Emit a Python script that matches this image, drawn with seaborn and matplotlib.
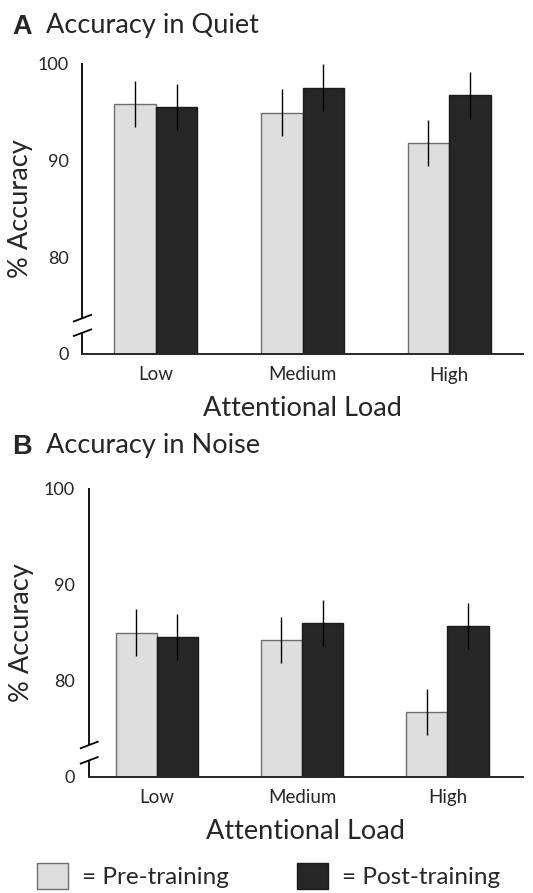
#!/usr/bin/env python3
import matplotlib
matplotlib.use('Agg')
import matplotlib.pyplot as plt
import numpy as np
import pandas as pd
import seaborn as sns


LOADS = ['Low', 'Medium', 'High']
PHASES = ['Pre-training', 'Post-training']

# panel A: accuracy in quiet (% correct, axis broken below 70)
QUIET_PRE = [95.8, 94.9, 91.8]
QUIET_POST = [95.5, 97.5, 96.7]
QUIET_PRE_ERR = [2.4, 2.4, 2.4]
QUIET_POST_ERR = [2.4, 2.4, 2.4]

# panel B: accuracy in noise
NOISE_PRE = [85.0, 84.2, 76.7]
NOISE_POST = [84.5, 86.0, 85.7]
NOISE_PRE_ERR = [2.4, 2.4, 2.4]
NOISE_POST_ERR = [2.4, 2.4, 2.4]

Y_TICKS = [70, 80, 90, 100]
Y_TICKLABELS = ['0', '80', '90', '100']

LIGHT = '#dedede'
DARK = '#262626'
FONT = 'Lato'
BIG = 19.5


def plot_panel(ax, pre, post, pre_err, post_err, xlim, breaks, ylab_x):
    '''
    '''
    df = pd.DataFrame({
        'load': LOADS * 2,
        'phase': [PHASES[0]] * 3 + [PHASES[1]] * 3,
        'acc': pre + post})

    sns.barplot(data=df, x='load', y='acc', hue='phase',
                palette=[LIGHT, DARK], width=0.567, errorbar=None,
                saturation=1, legend=False, ax=ax)

    edges = ['#6e6e6e', '#1a1a1a']
    for cont, errs, ec in zip(ax.containers, [pre_err, post_err], edges):
        for bar, err in zip(cont, errs):
            bar.set_edgecolor(ec)
            bar.set_linewidth(1.0)
            xc = bar.get_x() + bar.get_width() / 2
            ax.errorbar(xc, bar.get_height(), yerr=err, color='black',
                        lw=1.0, capsize=0, clip_on=False, zorder=5)

    ax.set_ylim(70, 100)
    ax.set_xlim(*xlim)
    ax.set_yticks(Y_TICKS)
    ax.set_yticklabels(Y_TICKLABELS, fontsize=13, family=FONT)
    ax.set_xticks(range(3))
    ax.set_xticklabels(LOADS, fontsize=13.5, family=FONT)
    ax.tick_params(length=0, pad=9)
    ax.tick_params(axis='y', pad=10)
    ax.set_xlabel('Attentional Load', fontsize=BIG, family=FONT,
                  labelpad=9)
    ax.set_ylabel('% Accuracy', fontsize=BIG, family=FONT)
    ax.yaxis.set_label_coords(ylab_x, 0.5)

    for s in ['top', 'right', 'left']:
        ax.spines[s].set_visible(False)
    ax.spines['bottom'].set_linewidth(1.4)

    # broken y axis drawn by hand
    top_b, low_b = breaks
    trans = ax.get_yaxis_transform()
    kw = dict(color='black', lw=1.3, transform=trans, clip_on=False,
              solid_capstyle='butt')
    ax.plot([0, 0], [top_b, 100], **kw)
    ax.plot([0, 0], [70, low_b], **kw)
    for yb in breaks:
        ax.plot([-0.021, 0.022], [yb - 0.37, yb + 0.37], **kw)


sns.set_style('white')
plt.rcParams['font.family'] = [FONT, 'DejaVu Sans']

fig = plt.figure(figsize=(5.33, 8.93), dpi=100)
W, H = 533.0, 893.0

axA = fig.add_axes([82.3 / W, (H - 354) / H, (522.7 - 82.3) / W,
                    (354 - 63.3) / H])
plot_panel(axA, QUIET_PRE, QUIET_POST, QUIET_PRE_ERR, QUIET_POST_ERR,
           (-0.5, 2.5), (73.7, 72.2), -0.111)

axB = fig.add_axes([89 / W, (H - 776.7) / H, (522.7 - 89) / W,
                    (776.7 - 488.3) / H])
plot_panel(axB, NOISE_PRE, NOISE_POST, NOISE_PRE_ERR, NOISE_POST_ERR,
           (-0.466, 2.518), (73.3, 71.7), -0.127)

# panel titles
for letter, title, ybase in [('A', 'Accuracy in Quiet', 33.5),
                             ('B', 'Accuracy in Noise', 453.5)]:
    fig.text(12.5 / W, (H - ybase) / H, letter, fontsize=BIG,
             fontweight='bold', family='Liberation Sans', va='baseline')
    fig.text(46 / W, (H - ybase) / H, title, fontsize=BIG,
             family=FONT, va='baseline')

# legend along the bottom edge
handles = [axB.containers[0][0], axB.containers[1][0]]
fig.legend(handles, ['= Pre-training', '= Post-training'],
           loc='upper left', bbox_to_anchor=(36.7 / W, (H - 862.7) / H),
           ncol=2, frameon=False, prop={'family': FONT, 'size': 17.5},
           borderpad=0, borderaxespad=0,
           handlelength=1.3, handleheight=1.28, handletextpad=0.55,
           columnspacing=2.8)

fig.savefig('out.png', dpi=100)
plt.close()
